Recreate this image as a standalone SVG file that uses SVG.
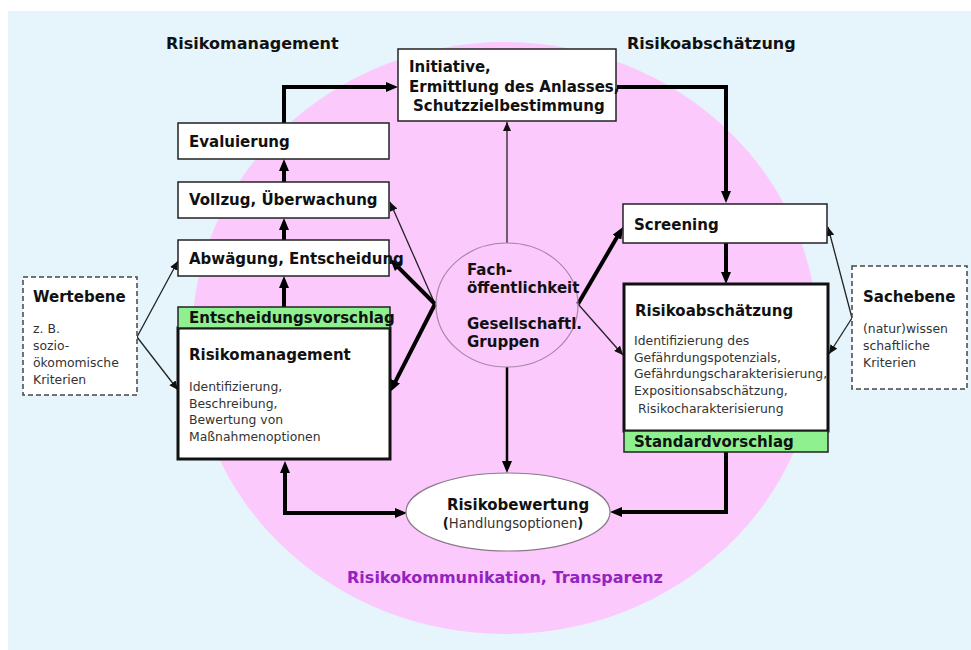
<svg xmlns="http://www.w3.org/2000/svg" width="971" height="650" viewBox="0 0 971 650">
<style>
.t{font-family:"DejaVu Sans","Liberation Sans",sans-serif;fill:#111}
.b{font-weight:bold;font-size:15px}
.h{font-weight:bold;font-size:16px}
.n{font-size:12.4px;fill:#333}
.box{fill:#fff;stroke:#222;stroke-width:1.5}
.bigbox{fill:#fff;stroke:#111;stroke-width:3}
.green{fill:#8ef08e;stroke:#222;stroke-width:1.5}
.dash{fill:#fff;stroke:#444;stroke-width:1.5;stroke-dasharray:5 3}
.thick{fill:none;stroke:#000;stroke-width:4}
.med{fill:none;stroke:#000;stroke-width:2.5}
.thin{fill:none;stroke:#222;stroke-width:1.3}
</style>
<defs>
<marker id="ah" markerUnits="userSpaceOnUse" markerWidth="12" markerHeight="10" refX="2" refY="5" orient="auto-start-reverse"><path d="M0,0 L12,5 L0,10 z" fill="#000"/></marker>
<marker id="as" markerUnits="userSpaceOnUse" markerWidth="9" markerHeight="8" refX="9" refY="4" orient="auto"><path d="M0,0 L9,4 L0,8 z" fill="#111"/></marker>
</defs>
<rect x="0" y="0" width="971" height="650" fill="#fff"/>
<rect x="8" y="11" width="963" height="639" fill="#e6f4fb"/>
<ellipse cx="505" cy="338" rx="313" ry="296" fill="#fcc9fc"/>
<text class="t h" x="166" y="49">Risikomanagement</text>
<text class="t h" x="627" y="49">Risikoabschätzung</text>
<text class="t" x="505" y="583" text-anchor="middle" style="font-weight:bold;font-size:16px;fill:#9322c2">Risikokommunikation, Transparenz</text>

<g id="connectors">
<path class="thick" d="M284,123 V87 H388" marker-end="url(#ah)"/>
<path class="thick" d="M617,87 H726 V193" marker-end="url(#ah)"/>
<path class="thick" d="M284,182 V169" marker-end="url(#ah)"/>
<path class="thick" d="M284,240 V228" marker-end="url(#ah)"/>
<path class="thick" d="M284,307 V286" marker-end="url(#ah)"/>
<path class="thick" d="M726,243 V274" marker-end="url(#ah)"/>
<path class="thick" d="M285,471 V513 H397" marker-start="url(#ah)" marker-end="url(#ah)"/>
<path class="thick" d="M726,452 V512 H620" marker-end="url(#ah)"/>
<path class="med" d="M507,367 V463" marker-end="url(#ah)"/>
<path class="thin" d="M507,243 V122" marker-end="url(#as)"/>
<path class="thin" d="M435,304 L390,202" marker-end="url(#as)"/>
<path class="thick" d="M435,304 L397.1,266.1" marker-end="url(#ah)"/>
<path class="thick" d="M435,304 L394.6,383.1" marker-end="url(#ah)"/>
<path class="thick" d="M578,304 L618,235.6" marker-end="url(#ah)"/>
<path class="thin" d="M578,304 L623,355" marker-end="url(#as)"/>
<path class="thin" d="M137,337 L178,261" marker-end="url(#as)"/>
<path class="thin" d="M137,337 L178,390" marker-end="url(#as)"/>
<path class="thin" d="M852,318 L828,227" marker-end="url(#as)"/>
<path class="thin" d="M852,318 L829,354" marker-end="url(#as)"/>
</g>

<g id="initiative">
<rect class="box" x="398" y="49" width="218" height="72"/>
<text class="t b" x="409" y="72">Initiative,</text>
<text class="t b" x="409" y="92">Ermittlung des Anlasses,</text>
<text class="t b" x="413" y="111">Schutzzielbestimmung</text>
</g>
<g id="evaluierung">
<rect class="box" x="178" y="123" width="211" height="36"/>
<text class="t b" x="189" y="147">Evaluierung</text>
</g>
<g id="vollzug">
<rect class="box" x="178" y="182" width="211" height="36"/>
<text class="t b" x="189" y="205">Vollzug, Überwachung</text>
</g>
<g id="abwaegung">
<rect class="box" x="178" y="240" width="211" height="36"/>
<text class="t b" x="189" y="264">Abwägung, Entscheidung</text>
</g>
<g id="risikomanagement">
<rect class="bigbox" x="178" y="328" width="212" height="131"/>
<rect class="green" x="178" y="307" width="212" height="21"/>
<text class="t b" x="189" y="323">Entscheidungsvorschlag</text>
<text class="t b" x="189" y="360">Risikomanagement</text>
<text class="t n" x="189" y="391">Identifizierung,</text>
<text class="t n" x="189" y="408">Beschreibung,</text>
<text class="t n" x="189" y="424">Bewertung von</text>
<text class="t n" x="189" y="441">Maßnahmenoptionen</text>
</g>
<g id="wertebene">
<rect class="dash" x="23" y="277" width="114" height="118"/>
<text class="t b" x="33" y="302">Wertebene</text>
<text class="t n" x="33" y="333">z. B.</text>
<text class="t n" x="33" y="350">sozio-</text>
<text class="t n" x="33" y="367">ökomomische</text>
<text class="t n" x="33" y="384">Kriterien</text>
</g>
<g id="fach">
<ellipse cx="507" cy="305" rx="71" ry="62" fill="none" stroke="#a887a8" stroke-width="1.2"/>
<text class="t b" x="467" y="275">Fach-</text>
<text class="t b" x="467" y="293">öffentlichkeit</text>
<text class="t b" x="467" y="329">Gesellschaftl.</text>
<text class="t b" x="467" y="347">Gruppen</text>
</g>
<g id="screening">
<rect class="box" x="623" y="204" width="204" height="39"/>
<text class="t b" x="634" y="230">Screening</text>
</g>
<g id="risikoabschaetzung">
<rect class="bigbox" x="624" y="284" width="204" height="147"/>
<rect class="green" x="624" y="431" width="204" height="21"/>
<text class="t b" x="635" y="316">Risikoabschätzung</text>
<text class="t n" x="634" y="345">Identifizierung des</text>
<text class="t n" x="634" y="362">Gefährdungspotenzials,</text>
<text class="t n" x="634" y="378">Gefährdungscharakterisierung,</text>
<text class="t n" x="634" y="395">Expositionsabschätzung,</text>
<text class="t n" x="638" y="413">Risikocharakterisierung</text>
<text class="t b" x="634" y="447">Standardvorschlag</text>
</g>
<g id="sachebene">
<rect class="dash" x="852" y="266" width="115" height="123"/>
<text class="t b" x="863" y="302">Sachebene</text>
<text class="t n" x="863" y="333">(natur)wissen</text>
<text class="t n" x="863" y="350">schaftliche</text>
<text class="t n" x="863" y="367">Kriterien</text>
</g>
<g id="risikobewertung">
<ellipse cx="508" cy="512" rx="102" ry="39" fill="#fff" stroke="#8a7a8a" stroke-width="1.2"/>
<text class="t b" x="518" y="510" text-anchor="middle">Risikobewertung</text>
<text class="t n" x="513" y="528" text-anchor="middle" style="font-size:13.2px"><tspan font-weight="bold" fill="#111">(</tspan>Handlungsoptionen<tspan font-weight="bold" fill="#111">)</tspan></text>
</g>
</svg>
